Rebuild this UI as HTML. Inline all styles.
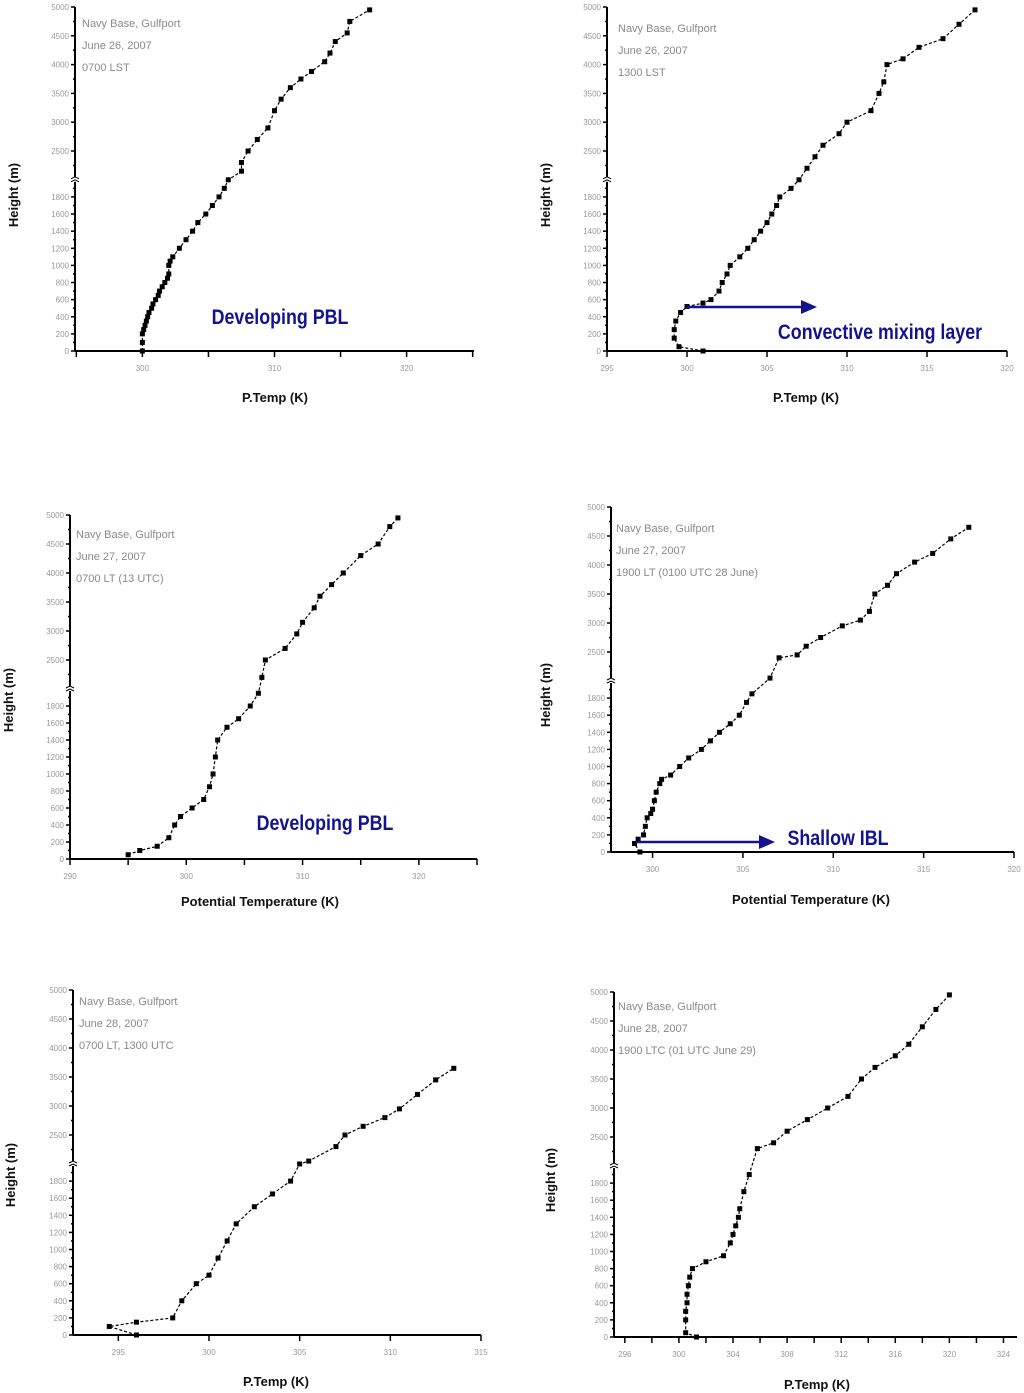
<!DOCTYPE html>
<html><head><meta charset="utf-8">
<style>
html,body{margin:0;padding:0;background:#fff;}
svg{display:block;font-family:"Liberation Sans",sans-serif;}
.tk{font-size:8px;fill:#999;}
.hd{font-size:11px;fill:#8a8a8a;}
.ttl{font-size:13px;font-weight:bold;fill:#111;}
.blue{font-size:21px;fill:#13138f;font-weight:bold;}
</style></head>
<body>
<svg id="chart" width="1024" height="1393" viewBox="0 0 1024 1393"></svg>
<script>
// ---- data: potential temperature (K) and height (m) per panel ----
const p1T=[300,300,300,300.1,300.2,300.3,300.4,300.5,300.7,300.8,301,301.2,301.3,301.5,301.7,301.9,302,302,302.1,302.3,302.8,303.3,303.8,304.2,304.8,305.3,305.8,306.2,306.5,307.5,307.5,308,308.7,309.5,310,310.5,311.2,312,312.8,313.8,314.2,314.6,315.5,315.7,317.2];
const p1H=[0,100,200,250,300,350,400,450,500,550,600,650,700,750,800,850,900,1000,1050,1100,1200,1300,1400,1500,1600,1700,1800,1900,2000,2150,2300,2500,2700,2900,3200,3400,3600,3750,3880,4050,4200,4400,4550,4750,4950];
const p2T=[301,299.5,299.2,299.2,299.3,299.6,300,301,301.5,302,302.2,302.5,302.7,303.3,303.8,304.2,304.6,305,305.3,305.6,305.8,306.5,307,307.5,308,308.5,309.5,310,311.5,312,312.3,312.5,313.5,314.5,316,317,318];
const p2H=[0,50,150,250,350,450,520,560,600,700,800,900,1000,1100,1200,1300,1400,1500,1600,1700,1800,1900,2000,2200,2400,2600,2800,3000,3200,3500,3700,4000,4100,4300,4450,4700,4950];
const p3T=[295,296,297.5,298.5,299,299.5,300.5,301.5,302,302.3,302.5,302.7,303.5,304.5,305.5,306.2,306.5,306.8,308.5,309.5,310,311,311.5,312.5,313.5,315,316.5,317.5,318.2];
const p3H=[50,100,150,250,400,500,600,700,850,1000,1200,1400,1550,1650,1800,1950,2200,2500,2700,2950,3150,3400,3600,3800,4000,4300,4500,4800,4950];
const p4T=[299.3,299,299.2,299.5,299.6,299.7,299.9,300,300.1,300.2,300.4,300.5,301,301.5,302,302.7,303.2,303.7,304.3,304.8,305.2,305.5,306.5,307,308,308.5,309.3,310.5,311.5,312,312.3,313,313.5,314.5,315.5,316.5,317.5];
const p4H=[0,100,150,200,300,400,450,500,600,700,800,850,900,1000,1100,1200,1300,1400,1500,1600,1750,1850,2050,2400,2450,2600,2750,2950,3050,3200,3500,3650,3850,4050,4200,4450,4650];
const p5T=[296,294.5,296,298,298.5,299.3,300,300.5,301,301.5,302.5,303.5,304.5,305,305.5,307,307.5,308.5,309.7,310.5,311.5,312.5,313.5];
const p5H=[0,100,150,200,400,600,700,900,1100,1300,1500,1650,1800,2000,2050,2300,2500,2650,2800,2950,3200,3450,3650];
const p6T=[301.3,300.5,300.5,300.5,300.6,300.6,300.7,300.8,301,302,303.3,303.8,304,304.2,304.4,304.5,304.8,305.2,305.8,307,308,309.5,311,312.5,313.5,314.5,316,317,318,319,320];
const p6H=[0,50,200,300,400,500,600,700,800,880,950,1100,1200,1300,1400,1500,1700,1900,2300,2400,2600,2800,3000,3200,3500,3700,3900,4100,4400,4700,4950];
const yLowTicks=[0,200,400,600,800,1000,1200,1400,1600,1800];
const yUpTicks=[2500,3000,3500,4000,4500,5000];
const headers=[
 ["Navy Base, Gulfport","June 26, 2007","0700 LST"],
 ["Navy Base, Gulfport","June 26, 2007","1300 LST"],
 ["Navy Base, Gulfport","June 27, 2007","0700 LT (13 UTC)"],
 ["Navy Base, Gulfport","June 27, 2007","1900 LT (0100 UTC 28 June)"],
 ["Navy Base, Gulfport","June 28, 2007","0700 LT,  1300 UTC"],
 ["Navy Base, Gulfport","June 28, 2007","1900 LTC (01 UTC June 29)"]];
const xTitles=["P.Temp (K)","P.Temp (K)","Potential Temperature (K)","Potential Temperature (K)","P.Temp (K)","P.Temp (K)"];

const L=[
 {T:p1T,H:p1H,x0:75,x1:474,xmin:294.9,xmax:325.1,step:5,lab:[300,310,320],ay:351,y25:151,y50:7,hx:82,hy:27,ytx:14,ytY:195,xtX:275,xtY:402},
 {T:p2T,H:p2H,x0:607,x1:1007,xmin:295,xmax:320,step:5,lab:[295,300,305,310,315,320],ay:351,y25:151,y50:7,hx:618,hy:32,ytx:546,ytY:195,xtX:806,xtY:402},
 {T:p3T,H:p3H,x0:70,x1:477,xmin:290,xmax:325,step:5,lab:[290,300,310,320],ay:859,y25:660,y50:515,hx:76,hy:538,ytx:9,ytY:700,xtX:260,xtY:906},
 {T:p4T,H:p4H,x0:611,x1:1014,xmin:297.7,xmax:320,step:5,lab:[300,305,310,315,320],ay:852,y25:652,y50:507,hx:616,hy:532,ytx:546,ytY:695,xtX:811,xtY:904},
 {T:p5T,H:p5H,x0:73,x1:481,xmin:292.5,xmax:315,step:5,lab:[295,300,305,310,315],ay:1335,y25:1135,y50:990,hx:79,hy:1005,ytx:11,ytY:1175,xtX:276,xtY:1386},
 {T:p6T,H:p6H,x0:614,x1:1017,xmin:295.2,xmax:325,step:2,lab:[296,300,304,308,312,316,320,324],ay:1337,y25:1137,y50:992,hx:618,hy:1010,ytx:551,ytY:1180,xtX:817,xtY:1389}];

const NS="http://www.w3.org/2000/svg";
const svg=document.getElementById('chart');
function mk(tag,attrs,parent){const e=document.createElementNS(NS,tag);for(const k in attrs)e.setAttribute(k,attrs[k]);(parent||svg).appendChild(e);return e;}

L.forEach((p,i)=>{
 const g=mk('g',{});
 
 
 const kUp=(p.y25-p.y50)/2500;
 const kL=(p.ay-(p.y25+500*kUp))/2000;
 const xS=t=>p.x0+(t-p.xmin)/(p.xmax-p.xmin)*(p.x1-p.x0);
 const yS=h=>h<=2000? p.ay-h*kL : p.y25+(2500-h)*kUp;
 const yBreak=yS(2000);
 const ya=mk('line',{x1:p.x0,y1:p.y50,x2:p.x0,y2:p.ay,stroke:'#000','stroke-width':2},g);
 
 const xa=mk('line',{x1:p.x0,y1:p.ay,x2:p.x1,y2:p.ay,stroke:'#000','stroke-width':2},g);
 
 mk('rect',{x:p.x0-4,y:yBreak-3,width:8,height:5,fill:'#fff'},g);
 mk('path',{d:`M${p.x0-4} ${yBreak-1} l4 -2 l4 2 M${p.x0-4} ${yBreak+2} l4 -2 l4 2`,stroke:'#000',fill:'none','stroke-width':1},g);
 for(let h=0;h<=1900;h+=100){const y=yS(h);mk('line',{x1:p.x0-(h%200?2:4),y1:y,x2:p.x0,y2:y,stroke:'#000','stroke-width':1.5},g);}
 for(let h=2250;h<=5000;h+=250){const y=yS(h);mk('line',{x1:p.x0-(h%500?2:4),y1:y,x2:p.x0,y2:y,stroke:'#000','stroke-width':1.5},g);}
 yLowTicks.concat(yUpTicks).forEach(h=>{const t=mk('text',{x:p.x0-6,y:yS(h)+3,'text-anchor':'end',class:'tk'},g);t.textContent=String(h);
  });
 for(let v=Math.ceil(p.xmin/p.step)*p.step;v<=p.xmax+0.01;v+=p.step){const x=xS(v);mk('line',{x1:x,y1:p.ay,x2:x,y2:p.ay+6,stroke:'#000','stroke-width':1.5},g);}
 p.lab.forEach(v=>{const t=mk('text',{x:xS(v),y:p.ay+20,'text-anchor':'middle',class:'tk'},g);t.textContent=v;
  });
 let d='';p.T.forEach((t,j)=>{d+=(j?'L':'M')+xS(t).toFixed(1)+' '+yS(p.H[j]).toFixed(1);});
 const ln=mk('path',{d:d,stroke:'#000',fill:'none','stroke-width':1.2,'stroke-dasharray':'3 2'},g);
 
 p.T.forEach((t,j)=>{const r=mk('rect',{x:xS(t)-2.5,y:yS(p.H[j])-2.5,width:5,height:5,fill:'#000'},g);
  });
 headers[i].forEach((s,k)=>{const t=mk('text',{x:p.hx,y:p.hy+k*22,class:'hd'},g);t.textContent=s;
  });
 const yt=mk('text',{x:0,y:0,class:'ttl','text-anchor':'middle',transform:`translate(${p.ytx+4},${p.ytY}) rotate(-90)`},g);yt.textContent='Height (m)';
 
 const xt=mk('text',{x:p.xtX,y:p.xtY,class:'ttl','text-anchor':'middle'},g);xt.textContent=xTitles[i];
 
});

function label(x,y,s,name){const t=mk('text',{x:0,y:0,class:'blue','text-anchor':'middle',transform:`translate(${x},${y}) scale(0.85,1)`});t.textContent=s;
 }
label(280,324,'Developing PBL','annotation-developing-pbl-1');
label(880,339,'Convective mixing layer','annotation-convective-mixing-layer');
label(325,830,'Developing PBL','annotation-developing-pbl-2');
label(838,845,'Shallow IBL','annotation-shallow-ibl');
function arrow(x1,x2,y,name){const a=mk('path',{d:`M${x1} ${y} L${x2-14} ${y}`,stroke:'#13138f','stroke-width':2.5,fill:'none'});
 
 const h=mk('path',{d:`M${x2-16} ${y-7} L${x2} ${y} L${x2-16} ${y+7} Z`,fill:'#13138f'});
 }
arrow(686,817,307,'mixing-layer-arrow');
arrow(636,775,842,'ibl-arrow');
</script>
</body></html>
